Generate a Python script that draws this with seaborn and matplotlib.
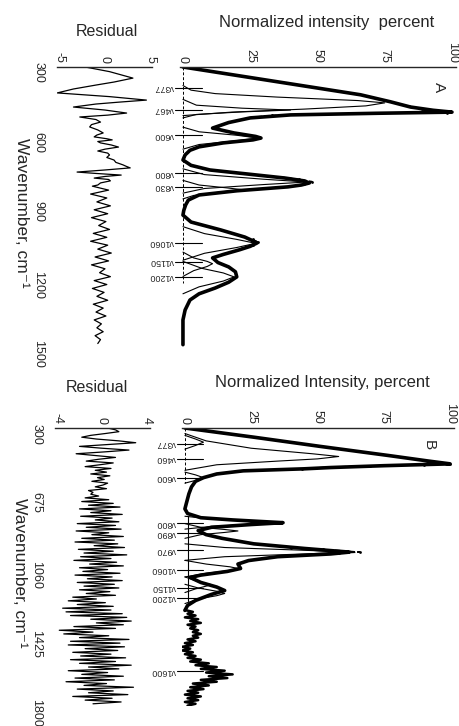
import numpy as np
import pandas as pd
import matplotlib
matplotlib.use("Agg")
import matplotlib.pyplot as plt
import seaborn as sns

# ---------------- panel A ----------------
A_fit_wn = [300, 340, 380, 420, 450, 473, 487, 495, 500, 507, 520, 540, 564, 585, 600, 607,
            615, 628, 645, 660, 680, 702, 725, 745, 765, 780, 792, 801, 810, 818, 835, 853,
            875, 896, 920, 940, 970, 1004, 1035, 1060, 1075, 1090, 1110, 1125, 1145, 1164,
            1185, 1207, 1230, 1255, 1280, 1307, 1350, 1393, 1450, 1500]
A_fit_int = [0, 22, 44, 66, 77, 84.6, 93, 100, 72, 40, 25, 17, 11, 19, 27, 29,
             26, 15, 6, 2.6, 0.8, 0, 3, 10, 26, 38, 45, 47, 44, 39, 20, 6,
             2, 1, 0.3, 0, 3, 14, 23, 27.6, 25, 21, 15, 11, 13, 17,
             19.5, 20, 17, 12, 6, 2.6, 0.8, 0, 0, 0]

# measured points, drawn dashed where they show beside the fit
A_exp_wn = [[470, 480, 488, 494, 497, 500, 504, 509, 516],
            [775, 785, 795, 805, 815],
            [1045, 1058, 1070, 1082]]
A_exp_int = [[84, 89, 94, 99, 98, 70, 48, 33, 27],
             [36, 43, 48, 45, 40],
             [26, 28, 26, 22]]

A_comp_wn = [
    [380, 400, 415, 430, 445, 455, 468, 482, 495, 510],
    [440, 465, 478, 486, 494, 505, 520],
    [560, 580, 595, 607, 618, 635, 655],
    [740, 765, 785, 797, 808, 825, 845],
    [790, 810, 822, 830, 840, 855, 870],
    [990, 1020, 1045, 1062, 1080, 1105, 1135],
    [1100, 1125, 1140, 1150, 1162, 1180, 1205],
    [1140, 1170, 1190, 1207, 1225, 1250, 1280],
]
A_comp_int = [
    [0, 3, 12, 35, 65, 75, 68, 45, 18, 0],
    [0, 5, 22, 40, 22, 5, 0],
    [0, 6, 20, 28, 20, 6, 0],
    [0, 8, 30, 46, 30, 8, 0],
    [0, 6, 16, 22, 14, 4, 0],
    [0, 8, 20, 27, 20, 8, 0],
    [0, 4, 9, 11, 9, 4, 0],
    [0, 7, 15, 19, 15, 6, 0],
]

A_res_wn = [300, 320, 348, 365, 378, 395, 412, 428, 443, 452, 460, 473, 486, 499, 508, 516,
            527, 538, 549, 559, 572, 585, 594, 602, 610, 615, 622, 628, 637, 646, 655, 663,
            672, 680, 691, 702, 712, 723, 730, 736, 745, 754, 760, 767, 773, 780, 786, 792,
            801, 810, 815, 832, 849, 866, 883, 900, 917, 934, 951, 968, 985, 1002, 1019,
            1036, 1053, 1070, 1087, 1104, 1121, 1138, 1155, 1172, 1189, 1206, 1223, 1240,
            1257, 1274, 1291, 1308, 1325, 1342, 1359, 1376, 1393, 1410, 1427, 1444, 1461,
            1478, 1495]
A_res = [-2.2, 0.5, 3.1, 1.0, -1.0, -3.5, -5.3, 0.5, 4.6, 1.5, -1.0, -3.5, 0.0, 2.4, 0.3, -2.8,
         -1.0, -0.5, -1.5, -1.7, -0.8, -0.2, -0.9, -1.2, 0.2, 0.8, -0.8, -0.5, 0.7, 1.5, 0.0, -0.8,
         0.3, 0.5, 0.2, 1.0, 1.2, 2.0, 2.4, 2.8, 0.0, -3.1, -1.0, 1.8, 0.0, -1.2, 0.4, 0.6,
         -0.5, -0.8, -1.4, 0.4, -1.6, 0.2, -0.9, 0.6, -1.2, 0.3, -1.5, 0.1, -0.7, 0.5, -1.3,
         0.2, -1.6, 0.3, -0.8, 0.7, -1.1, 0.4, -1.5, 0.0, -0.6, 0.6, -1.2, 0.2,
         -1.4, -0.1, -0.9, 0.3, -1.3, -0.2, -1.0, 0.1, -1.2, -0.4, -0.9, -0.2, -1.1,
         -0.5, -0.8]

A_peak_pos = [390, 485, 595, 760, 818, 1060, 1142, 1207]
A_peak_txt = ["ν377", "ν467", "ν600", "ν800", "ν830", "ν1060", "ν1150", "ν1200"]

# ---------------- panel B ----------------
B_fit_wn = [300, 350, 400, 450, 480, 495, 505, 515, 522, 533, 550, 570, 590, 620, 658, 712,
            740, 765, 788, 800, 815, 825, 840, 858, 880, 900, 930, 955, 975, 985, 1000, 1021,
            1040, 1064, 1080, 1100, 1113, 1140, 1165, 1184, 1205, 1238, 1265, 1292]
B_fit_int = [0, 26, 51, 77, 92, 100, 75, 55, 45, 22, 12, 7, 4, 2.5, 1.5, 0.5,
             0, 1, 6, 18, 37, 25, 10, 5, 8, 14, 26, 45, 62, 55, 35, 24,
             20, 21, 16, 6, 2, 6, 12, 15, 10, 4, 1, 0]

B_exp_wn = [[480, 490, 495, 500, 506, 512, 518, 524],
            [950, 960, 968, 975, 981, 988, 996]]
B_exp_int = [[92, 97, 100, 90, 70, 55, 48, 44],
             [40, 52, 60, 66, 58, 48, 38]]

# noisy measured trace past 1290 cm-1
B_tail_wn = [1290, 1300, 1310, 1320, 1330, 1340, 1350, 1360, 1370, 1380, 1390, 1400, 1410,
             1420, 1430, 1440, 1450, 1460, 1470, 1480, 1490, 1500, 1510, 1520, 1530, 1540,
             1550, 1560, 1570, 1580, 1590, 1600, 1610, 1620, 1630, 1640, 1650, 1660, 1670,
             1680, 1690, 1700, 1710, 1720, 1730, 1740, 1750, 1760, 1770, 1780, 1790, 1800,
             1810]
B_tail_int = [0, 3, 1, 4, 0, 5, 2, 6, 1, 4, 2, 5, 3,
              6, 3, 5, 1, 4, 0, 3, -1, 2, -1, 3, 0, 4,
              1, 6, 2, 9, 4, 12, 6, 15, 8, 18, 9, 16, 6,
              12, 3, 9, 2, 7, 1, 5, 0, 6, 1, 5, 0, 4,
              1]

B_comp_wn = [
    [340, 360, 377, 395, 415],
    [330, 370, 410, 440, 455, 468, 480, 500, 530],
    [540, 555, 570, 585, 600],
    [780, 795, 808, 815, 822, 835, 850],
    [820, 840, 852, 860, 868, 880, 900],
    [930, 950, 965, 975, 985, 1000, 1020],
    [1020, 1040, 1055, 1064, 1075, 1090, 1110],
    [1110, 1130, 1145, 1152, 1160, 1175, 1195],
    [1150, 1170, 1188, 1200, 1212, 1230, 1255],
]
B_comp_int = [
    [0, 4, 7, 4, 0],
    [0, 8, 25, 48, 58, 50, 35, 12, 0],
    [0, 4, 7, 4, 0],
    [0, 10, 28, 36, 28, 10, 0],
    [0, 6, 15, 20, 15, 6, 0],
    [0, 15, 45, 62, 45, 15, 0],
    [0, 8, 17, 20, 17, 8, 0],
    [0, 4, 8, 10, 8, 4, 0],
    [0, 5, 12, 15, 12, 5, 0],
]

B_res_wn = [300, 310, 320, 330, 340, 350, 360, 370, 380, 390, 400, 410, 420, 430, 440, 450,
            460, 470, 480, 490, 500, 510, 520, 530, 540, 550, 560, 570, 580, 590, 600, 610,
            620, 630, 640, 650, 660, 670, 680, 690, 700, 710, 720, 730, 740, 750, 760, 770,
            780, 790, 800, 810, 820, 830, 840, 850, 860, 870, 880, 890, 900, 910, 920, 930,
            940, 950, 960, 970, 980, 990, 1000, 1010, 1020, 1030, 1040, 1050, 1060, 1070,
            1080, 1090, 1100, 1110, 1120, 1130, 1140, 1150, 1160, 1170, 1180, 1190, 1200,
            1210, 1220, 1230, 1240, 1250, 1260, 1270, 1280, 1290, 1300, 1310, 1320, 1330,
            1340, 1350, 1360, 1370, 1380, 1390, 1400, 1410, 1420, 1430, 1440, 1450, 1460,
            1470, 1480, 1490, 1500, 1510, 1520, 1530, 1540, 1550, 1560, 1570, 1580, 1590,
            1600, 1610, 1620, 1630, 1640, 1650, 1660, 1670, 1680, 1690, 1700, 1710, 1720,
            1730, 1740, 1750, 1760, 1770, 1780, 1790, 1800]
B_res = [0.5, 1.2, 1.5, 0.3, -1.0, -1.8, -0.5, 1.5, 3.0, 0.5, -2.0, 0.0, 2.4, 0.2, -2.3, -0.5,
         1.2, -0.3, -1.4, 1.0, -0.2, -1.5, 0.8, -0.6, 0.4, -1.0, 0.7, -0.4, 0.2, -0.9, 0.5, 0.1,
         -0.6, 0.4, -1.2, -0.8, -1.0, -0.3, -1.5, 0.6, -1.8, 1.0, -1.2, 1.6, -2.0, 0.8, -1.0, 1.8,
         -1.9, 0.9, -0.6, 1.5, -2.2, 1.2, -1.4, 1.7, -2.3, 0.6, -0.9, 1.9, -1.8, 1.1, -2.4, 1.4,
         -0.7, 2.0, -2.1, 1.0, -1.6, 2.2, -1.9, 0.8, -2.5, 1.3, -1.1, 1.9, -2.0, 0.5,
         -1.7, 1.6, -2.4, 0.9, -1.3, 1.8, -2.2, 1.1, -1.6, 1.5, -2.0, 0.7, -1.4,
         1.2, -2.6, -0.5, -3.0, 0.3, -2.2, 1.0, -3.5, 0.8, -3.2, 1.8, -2.8, 2.2,
         -1.0, 2.6, -0.5, 1.9, -2.5, 1.2, -3.8, -0.8, -3.4, 0.6, -2.0, 2.4, -2.8,
         1.6, -3.0, 2.0, -1.5, 1.4, -2.6, 0.8, -1.9, 2.1, -2.8, 1.2, -2.0, 2.6,
         -1.2, 1.5, -3.0, 0.5, -1.8, 1.9, -2.4, 1.1, -3.2, 0.4, -1.6, 2.8, -2.2,
         1.0, -1.2, 2.3, -2.6, 0.9, -1.5, 1.7, -0.8]

B_peak_pos = [386, 468, 570, 818, 872, 964, 1072, 1169, 1223, 1623]
B_peak_txt = ["ν377", "ν460", "ν600", "ν800", "ν890", "ν970", "ν1060", "ν1150", "ν1200", "ν1600"]

sns.set_style("white")
plt.rcParams['font.family'] = ['Liberation Sans', 'DejaVu Sans']

W, H = 460, 726
fig = plt.figure(figsize=(W / 100, H / 100), dpi=100)


def frac(x0, y0, x1, y1):
    return [x0 / W, 1 - y1 / H, (x1 - x0) / W, (y1 - y0) / H]


def line(ax, x, y, **kw):
    sns.lineplot(x=x, y=y, ax=ax, sort=False, estimator=None, color="black", **kw)


def panel(box_res, box_int, res_lim, res_ticks, wn_lim, wn_ticks, wn_labels,
          fit_wn, fit_int, exp_wn, exp_int, comp_wn, comp_int, res_wn, res,
          peak_pos, peak_txt, letter, letter_xy, baseline_end, minor=None):
    ax_r = fig.add_axes(frac(*box_res))
    ax_i = fig.add_axes(frac(*box_int))

    # residual
    line(ax_r, res, res_wn, lw=0.9)
    ax_r.set_xlim(*res_lim)
    ax_r.set_ylim(*wn_lim)
    ax_r.xaxis.tick_top()
    ax_r.set_xticks(res_ticks)
    ax_r.set_xticklabels([str(t) for t in res_ticks])
    ax_r.tick_params(axis="x", length=0, pad=3, labelsize=9, labelrotation=-90)
    ax_r.set_yticks(wn_ticks)
    ax_r.set_yticklabels(wn_labels)
    ax_r.tick_params(axis="y", direction="in", length=5, width=1.2, pad=9,
                     labelsize=9, labelrotation=-90)
    if minor is not None:
        ax_r.set_yticks(minor, minor=True)
        ax_r.tick_params(axis="y", which="minor", direction="in", length=1.5, width=1.5)
    for s in ["left", "right", "bottom"]:
        ax_r.spines[s].set_visible(False)
    ax_r.spines["top"].set_linewidth(1.0)
    ax_r.set_xlabel("")
    ax_r.set_ylabel("Wavenumber, cm\u207b\u00b9", rotation=-90, fontsize=12.5, va="center")
    ax_r.yaxis.set_label_coords(-0.37, 0.48)

    # intensity
    ax_i.plot([0, 0], [wn_lim[1], baseline_end], color="black", lw=0.7, ls=(0, (3, 2)))
    for cw, ci in zip(comp_wn, comp_int):
        line(ax_i, ci, cw, lw=0.8)
    for ew, ei in zip(exp_wn, exp_int):
        line(ax_i, ei, ew, lw=1.0, linestyle="--", marker="o", markersize=2,
             markeredgewidth=0)
    line(ax_i, fit_int, fit_wn, lw=2.6)
    for p, t in zip(peak_pos, peak_txt):
        ax_i.plot([-3, 7], [p, p], color="black", lw=0.8, clip_on=False)
        ax_i.text(-3.5, p, t, rotation=180, ha="right", va="center", fontsize=6.5)
    ax_i.set_xlim(-1.1, 101.5)
    ax_i.set_ylim(*wn_lim)
    ax_i.xaxis.tick_top()
    ax_i.set_xticks([0, 25, 50, 75, 100])
    ax_i.set_xticklabels(["0", "25", "50", "75", "100"])
    ax_i.tick_params(axis="x", length=0, pad=3, labelsize=9, labelrotation=-90)
    ax_i.set_yticks([])
    for s in ["left", "right", "bottom"]:
        ax_i.spines[s].set_visible(False)
    ax_i.spines["top"].set_linewidth(1.0)
    ax_i.set_xlabel("")
    ax_i.set_ylabel("")
    ax_i.text(letter_xy[0], letter_xy[1], letter, rotation=-90, ha="center", va="center",
              fontsize=11)
    return ax_r, ax_i


panel((57, 67, 152, 347), (180, 67, 456, 347), (-5.33, 5.22), [-5, 0, 5],
      (1510, 300), [300, 600, 900, 1200, 1500], ["300", "600", "900", "1200", "1500"],
      A_fit_wn, A_fit_int, A_exp_wn, A_exp_int, A_comp_wn, A_comp_int, A_res_wn, A_res,
      A_peak_pos, A_peak_txt, "A", (95, 385), 1235)

ax_rb, ax_ib = panel((55, 428, 150, 706), (182, 428, 454, 706), (-4.18, 4.27), [-4, 0, 4],
                     (1812, 300), [300, 675, 1050, 1425, 1800],
                     ["300", "675", "1060", "1425", "1800"],
                     B_fit_wn, B_fit_int, B_exp_wn, B_exp_int, B_comp_wn, B_comp_int,
                     B_res_wn, B_res, B_peak_pos, B_peak_txt, "B", (92, 395), 600,
                     minor=[394, 488, 581, 769, 863, 956, 1144, 1238, 1331, 1519, 1613, 1706])
line(ax_ib, B_tail_int, B_tail_wn, lw=1.8)
ax_ib.plot([1, 1], [780, 1240], color="black", lw=0.8)

fig.text(327 / W, 1 - 22 / H, "Normalized intensity  percent", ha="center", va="center",
         fontsize=12)
fig.text(107 / W, 1 - 32 / H, "Residual", ha="center", va="center", fontsize=11.5)
fig.text(322 / W, 1 - 383 / H, "Normalized Intensity, percent", ha="center", va="center",
         fontsize=12)
fig.text(97 / W, 1 - 388 / H, "Residual", ha="center", va="center", fontsize=11.5)

fig.savefig("out.png", dpi=100)
